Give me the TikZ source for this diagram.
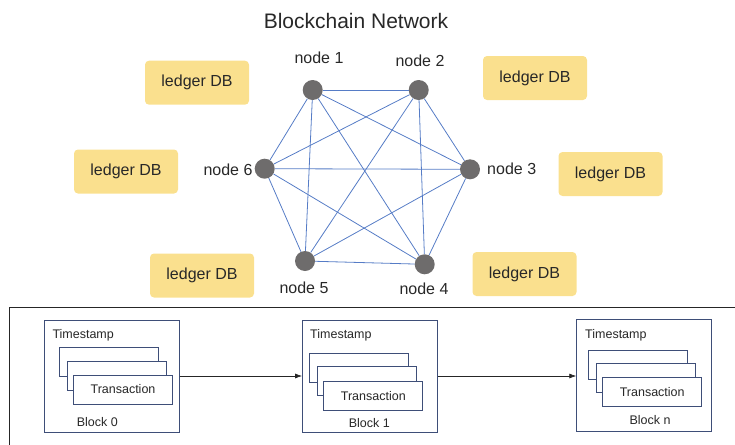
\documentclass[tikz,border=0pt]{standalone}
\usepackage{fontspec}
\setmainfont{Liberation Sans}
\usetikzlibrary{arrows.meta}
\definecolor{ledgerfill}{RGB}{250,224,142}
\definecolor{edgeblue}{RGB}{86,124,198}
\definecolor{nodegray}{RGB}{110,108,108}
\definecolor{boxnavy}{RGB}{62,78,120}
\definecolor{txtdark}{RGB}{40,40,40}
\tikzset{
  ledger/.style={fill=ledgerfill, rounded corners=4pt, minimum width=104pt, minimum height=44pt, inner sep=0pt, text=txtdark, font=\fontsize{16}{18}\selectfont},
  netnode/.style={circle, fill=nodegray, minimum size=20pt, inner sep=0pt},
  nodelabel/.style={text=txtdark, font=\fontsize{16}{18}\selectfont, inner sep=0pt},
  netedge/.style={draw=edgeblue, line width=0.8pt},
  blockbox/.style={draw=boxnavy, line width=0.8pt, fill=white, minimum width=135pt, minimum height=112pt, inner sep=0pt},
  txbox/.style={draw=boxnavy, line width=0.8pt, fill=white, minimum width=99pt, minimum height=29pt, inner sep=0pt, font=\fontsize{12.5}{14}\selectfont, text=txtdark},
  smalltext/.style={font=\fontsize{12.5}{14}\selectfont, text=txtdark, inner sep=0pt},
  chainarrow/.style={draw=black!85, line width=0.7pt, -{Latex[length=7pt,width=5pt]}}
}
\begin{document}
\begin{tikzpicture}[x=1pt,y=-1pt]
\useasboundingbox (0,0) rectangle (735,444);
% title
\node[text=txtdark, font=\fontsize{21}{24}\selectfont, inner sep=0pt] (title) at (356,21) {Blockchain Network};
% ledger boxes
\node[ledger] (L1) at (197,82.7) {ledger DB};
\node[ledger] (L2) at (535,78) {ledger DB};
\node[ledger] (L3) at (610.5,174) {ledger DB};
\node[ledger] (L6) at (126,171.5) {ledger DB};
\node[ledger] (L5) at (202,275.5) {ledger DB};
\node[ledger] (L4) at (524.5,274) {ledger DB};
% network nodes
\node[netnode] (n1) at (312.7,90) {};
\node[netnode] (n2) at (418.7,90) {};
\node[netnode] (n3) at (470,169.3) {};
\node[netnode] (n4) at (424.7,264.3) {};
\node[netnode] (n5) at (305,261) {};
\node[netnode] (n6) at (264.7,168.7) {};
% labels
\node[nodelabel] (t1) at (319,58) {node 1};
\node[nodelabel] (t2) at (420,61) {node 2};
\node[nodelabel] (t3) at (511.7,169) {node 3};
\node[nodelabel] (t4) at (424,289) {node 4};
\node[nodelabel] (t5) at (304,288) {node 5};
\node[nodelabel] (t6) at (228,170) {node 6};
% edges (complete graph)
\foreach \a/\b in {n1/n2,n1/n3,n1/n4,n1/n5,n1/n6,n2/n3,n2/n4,n2/n5,n2/n6,n3/n4,n3/n5,n3/n6,n4/n5,n4/n6,n5/n6}
  \draw[netedge] (\a) -- (\b);
% bottom frame (open to the right and bottom)
\coordinate (fbl) at (9,446);
\coordinate (ftl) at (9,307);
\coordinate (ftr) at (737,307);
\draw[black!85, line width=0.8pt] (fbl) -- (ftl) -- (ftr);
% block 0
\node[blockbox] (b0) at (111.8,376.5) {};
\node[txbox] (b0t1) at (109,362) {};
\node[txbox] (b0t2) at (117.2,375.7) {};
\node[txbox] (b0t3) at (123,389.5) {Transaction};
\node[smalltext, anchor=west] (b0ts) at (52.3,335) {Timestamp};
\node[smalltext] (b0l) at (97.3,422.3) {Block 0};
% block 1
\node[blockbox] (b1) at (370,376.5) {};
\node[txbox] (b1t1) at (358.7,367.8) {};
\node[txbox] (b1t2) at (367,380.8) {};
\node[txbox] (b1t3) at (373.3,395.8) {Transaction};
\node[smalltext, anchor=west] (b1ts) at (310,335) {Timestamp};
\node[smalltext] (b1l) at (369.3,422.7) {Block 1};
% block n
\node[blockbox] (bn) at (644.2,375.5) {};
\node[txbox] (bnt1) at (638,364.5) {};
\node[txbox] (bnt2) at (646.2,378) {};
\node[txbox] (bnt3) at (652.2,391.7) {Transaction};
\node[smalltext, anchor=west] (bnts) at (585,335) {Timestamp};
\node[smalltext] (bnl) at (650,420) {Block n};
% chain arrows
\draw[chainarrow] (b0.east |- 0,376) -- (b1.west |- 0,376);
\draw[chainarrow] (b1.east |- 0,376) -- (bn.west |- 0,376);
\end{tikzpicture}
\end{document}
